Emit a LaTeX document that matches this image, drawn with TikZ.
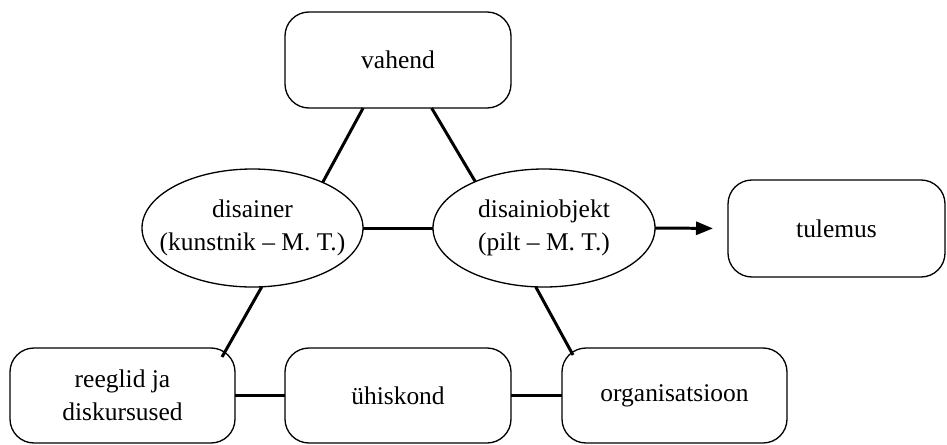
\documentclass[tikz,border=0pt]{standalone}
\usepackage{fontspec}
\setmainfont{Liberation Serif}
\usetikzlibrary{shapes.geometric,arrows.meta}

\begin{document}
\begin{tikzpicture}[line join = round, line cap = round, >={Triangle[length=.34cm,width=.26cm]}, font = \fontsize{14.5}{18.8}\selectfont,
		kast/.style = {rectangle, line width = .75pt, rounded corners = .48cm, draw = black, anchor = center, outer sep = 0pt, minimum width = 4.52cm, minimum height = 1.92cm, align = center},
		ovaal/.style = {ellipse, line width = .75pt, draw = black, anchor = center, outer sep = 0pt, inner xsep = -.6cm, inner ysep = 0pt, minimum width = 4.42cm, minimum height = 2.36cm, align = center},
		seos/.style = {line width = 1.7pt, line cap = butt}]
			%		\draw[gray!50,xstep = 1, ystep = 1] (0,0) grid (19,-9);
			\useasboundingbox (0,0) rectangle (18.94,-8.88);
			
			\node[kast] (vahend) at (7.96,-1.2) {vahend};
			\node[ovaal] (disainer) at (5.05,-4.56) {disainer\\(kunstnik -- M. T.)};
			\node[ovaal, minimum width = 4.44cm] (disainiobjekt) at (10.88,-4.56) {disainiobjekt\\(pilt -- M. T.)};
			\node[kast, minimum width = 4.34cm, minimum height = 1.94cm] (tulemus) at (16.73,-4.57) {tulemus};
			\node[kast, minimum width = 4.5cm, minimum height = 1.9cm] (reeglid) at (2.45,-7.91) {reeglid ja\\diskursused};
			\node[kast, minimum height = 1.9cm] (uhiskond) at (7.96,-7.91) {ühiskond};
			\node[kast, minimum width = 4.5cm, minimum height = 1.9cm] (organisatsioon) at (13.49,-7.91) {organisatsioon};
			
			\draw[seos] (vahend.-126) -- (disainer.33.5);
			\draw[seos] (vahend.-55) -- (disainiobjekt.146.3);
			\draw[seos] (disainer.east) -- (disainiobjekt.west);
			\draw[seos, ->, shorten >= .3cm] (disainiobjekt.east) -- (tulemus.west);
			\draw[seos] (disainer.-81) -- ([shift={(-.26,-.18)}]reeglid.north east);
			\draw[seos] (disainiobjekt.-98.5) -- ([shift={(.22,-.14)}]organisatsioon.north west);
			\draw[seos] (reeglid.east) -- (uhiskond.west);
			\draw[seos] (uhiskond.east) -- (organisatsioon.west);
		\end{tikzpicture}
\end{document}
